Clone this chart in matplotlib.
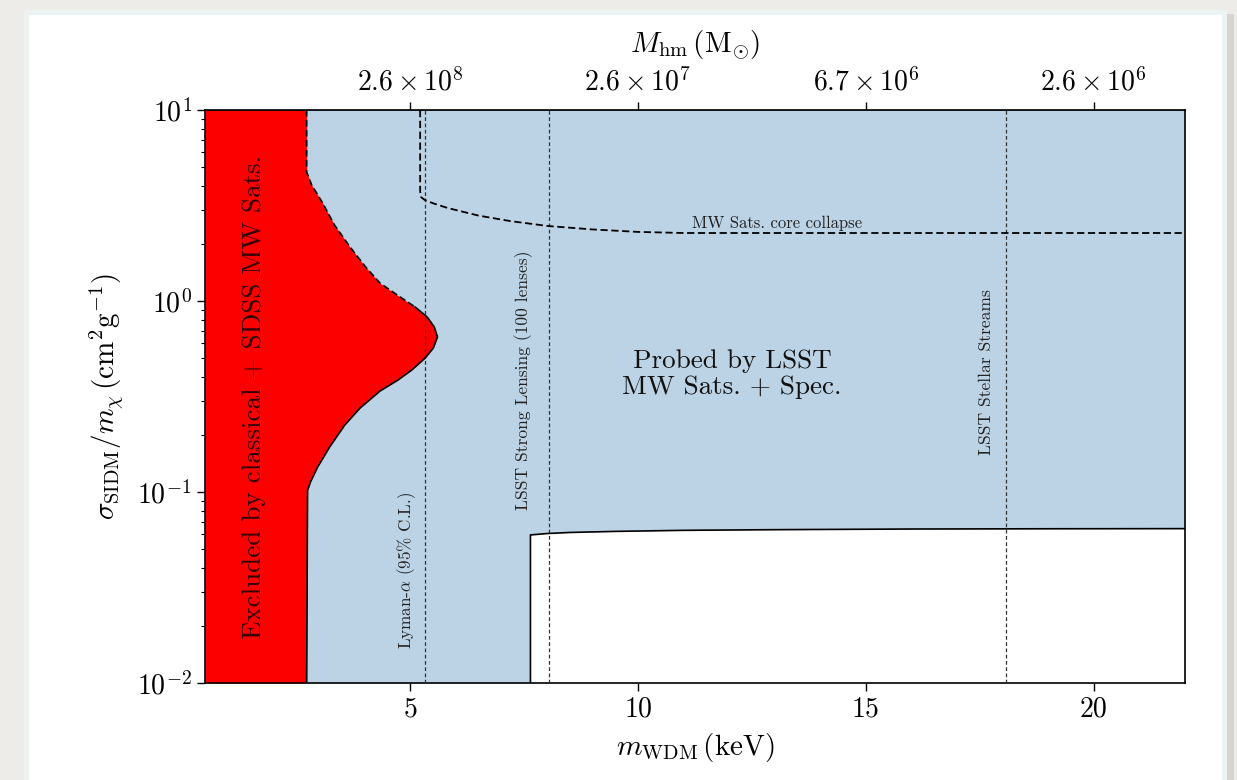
import matplotlib
matplotlib.use("Agg")
import matplotlib.pyplot as plt
from matplotlib.patches import Rectangle
import numpy as np

plt.rcParams['font.family'] = ['cmr10', 'DejaVu Serif']
plt.rcParams['mathtext.fontset'] = 'cm'
plt.rcParams['axes.formatter.use_mathtext'] = True
plt.rcParams['axes.unicode_minus'] = False

# ---------------- data ----------------
x_min, x_max = 0.5, 22.0
y_min, y_max = 0.01, 10.0

# excluded (red) boundary: x as a function of sigma
sigma_excl = [10, 4.73, 4.05, 3.26, 2.50, 1.92, 1.52, 1.24, 1.05, 0.93, 0.824, 0.731,
              0.649, 0.568, 0.503, 0.436, 0.386, 0.338, 0.275, 0.224, 0.172, 0.135,
              0.113, 0.102, 0.01]
x_excl = [2.73, 2.73, 2.84, 3.08, 3.34, 3.68, 4.01, 4.34, 4.78, 5.11, 5.375, 5.53,
          5.60, 5.51, 5.33, 5.04, 4.735, 4.34, 3.90, 3.565, 3.234, 2.97,
          2.815, 2.75, 2.73]
sigma_dash_split = 0.93

# region not probed (white)
x_white = [7.64, 8.0, 8.5, 9.5, 11, 13, 16, 19, 22]
sigma_white = [0.0596, 0.0606, 0.0614, 0.0622, 0.0630, 0.0635, 0.0640, 0.0642, 0.0643]

# MW satellites core-collapse curve
x_core = [5.22, 5.22, 5.24, 5.32, 5.5, 5.82, 6.5, 7.2, 8.02, 9.0, 10.0, 11.0, 22.0]
sigma_core = [10, 3.75, 3.5, 3.38, 3.25, 3.07, 2.80, 2.62, 2.47, 2.37, 2.30, 2.27, 2.27]

# vertical limits
x_lyman = 5.32
x_lensing = 8.04
x_streams = 18.08

# ticks
x_ticks = [5, 10, 15, 20]
top_tick_labels = [r'$2.6\times10^{8}$', r'$2.6\times10^{7}$',
                   r'$6.7\times10^{6}$', r'$2.6\times10^{6}$']

# ---------------- figure ----------------
W, H = 1237, 780
fig = plt.figure(figsize=(W / 100, H / 100), dpi=100)
fig.patch.set_facecolor('#eeece9')

# card background
def frect(x0, y0, x1, y1, **kw):
    return Rectangle((x0 / W, 1 - y1 / H), (x1 - x0) / W, (y1 - y0) / H,
                     transform=fig.transFigure, **kw)

fig.patches.append(frect(30, 14, 1234, 790, facecolor='#c9c7c4', edgecolor='none', alpha=0.6, zorder=0))
fig.patches.append(frect(24, 10, 1227, 790, facecolor='#edf2f2', edgecolor='none', zorder=1))
fig.patches.append(frect(29, 15, 1222, 790, facecolor='white', edgecolor='none', zorder=2))

ax = fig.add_axes([205 / W, 1 - 683 / H, (1185 - 205) / W, (683 - 110) / H])
ax.set_zorder(5)
ax.set_xlim(x_min, x_max)
ax.set_yscale('log')
ax.set_ylim(y_min, y_max)

blue = '#bcd3e5'
red = '#fc0000'

sig = np.array(sigma_excl)
xb = np.array(x_excl)
ax.fill_betweenx(sig, x_max, xb, color=blue, lw=0, zorder=1)
ax.fill_betweenx(sig, x_min, xb, color=red, lw=0, zorder=2)
ax.fill_between(x_white, y_min, sigma_white, color='white', lw=0, zorder=2)

# outlines
mask_d = sig >= sigma_dash_split
mask_s = sig <= sigma_dash_split
ax.plot(xb[mask_d], sig[mask_d], color='black', lw=1.2, ls=(0, (4, 2)), zorder=4)
ax.plot(xb[mask_s], sig[mask_s], color='black', lw=1.2, zorder=4)
ax.plot([x_white[0]] + x_white, [y_min] + sigma_white, color='black', lw=1.2, zorder=4)

ax.plot(x_core, sigma_core, color='black', lw=1.3, ls=(0, (4, 2)), zorder=4)
for xv in (x_lyman, x_lensing, x_streams):
    ax.axvline(xv, color='#333333', lw=0.9, ls=(0, (3, 2)), zorder=3)

# texts
ax.text(1.58, 0.314, 'Excluded by classical + SDSS MW Sats.', rotation=90,
        ha='center', va='center', fontsize=19.5, color='black', alpha=0.8, zorder=6)
ax.text(4.93, 0.039, r'Lyman-$\alpha$ (95% C.L.)', rotation=90,
        ha='center', va='center', fontsize=12.3, color='#222222', zorder=6)
ax.text(7.49, 0.386, 'LSST Strong Lensing (100 lenses)', rotation=90,
        ha='center', va='center', fontsize=12.6, color='#222222', zorder=6)
ax.text(17.65, 0.425, 'LSST Stellar Streams', rotation=90,
        ha='center', va='center', fontsize=12.6, color='#222222', zorder=6)
ax.text(13.06, 2.41, 'MW Sats. core collapse', ha='center', va='baseline',
        fontsize=12, color='#222222', zorder=6)
ax.text(12.06, 0.415, 'Probed by LSST\nMW Sats. + Spec.', ha='center', va='center',
        fontsize=19.5, color='#111111', linespacing=1.1, zorder=6)

# axes styling
ax.set_xticks(x_ticks)
ax.set_xticklabels([str(t) for t in x_ticks])
ax.tick_params(axis='both', which='major', labelsize=20, length=6, width=1, direction='out')
ax.tick_params(axis='y', which='minor', length=3, width=0.8)
ax.tick_params(axis='x', which='minor', bottom=False)
ax.set_xlabel(r'$m_{\rm WDM}\,(\rm keV)$', fontsize=21, labelpad=6)
ax.set_ylabel(r'$\sigma_{\rm SIDM}/m_{\chi}\,(\rm cm^2g^{-1})$', fontsize=21, labelpad=8)
for s in ax.spines.values():
    s.set_linewidth(1.2)

top = ax.secondary_xaxis('top')
top.set_xticks(x_ticks)
top.set_xticklabels(top_tick_labels)
top.tick_params(labelsize=20, length=6, width=1)
top.set_xlabel(r'$M_{\rm hm}\,(\rm M_{\odot})$', fontsize=21, labelpad=12)

fig.savefig('out.png', dpi=100, facecolor=fig.get_facecolor())
